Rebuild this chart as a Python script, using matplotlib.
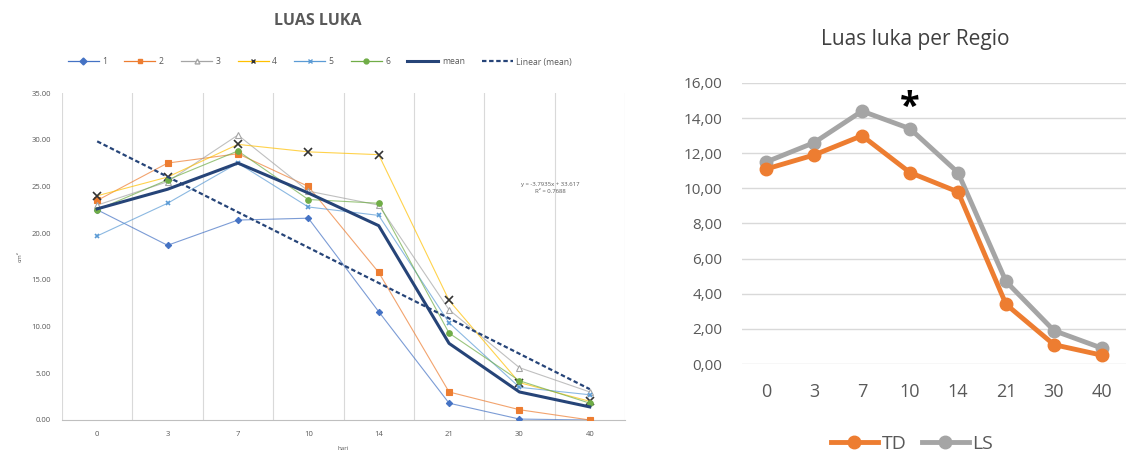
import numpy as np
import matplotlib
matplotlib.use("Agg")
import matplotlib.pyplot as plt
from matplotlib.lines import Line2D

plt.rcParams['font.family'] = ['Open Sans', 'DejaVu Sans']

# ---------------- data ----------------
days = ["0", "3", "7", "10", "14", "21", "30", "40"]

s1 = [22.5, 18.7, 21.4, 21.6, 11.6, 1.8, 0.1, 0.0]
s2 = [23.5, 27.5, 28.5, 25.0, 15.8, 3.0, 1.1, 0.0]
s3 = [23.0, 25.5, 30.5, 24.5, 23.0, 11.8, 5.6, 3.0]
s4 = [24.0, 26.0, 29.5, 28.7, 28.4, 12.8, 4.0, 2.0]
s5 = [19.7, 23.2, 27.5, 22.8, 21.9, 10.4, 3.5, 2.7]
s6 = [22.5, 25.7, 28.8, 23.6, 23.2, 9.3, 4.2, 1.8]
mean = [22.6, 24.7, 27.5, 24.3, 20.8, 8.2, 3.0, 1.4]
trend_label = "y = -3.7935x + 33.617\nR² = 0.7688"

left_ticks = [0, 5, 10, 15, 20, 25, 30, 35]

td = [11.1, 11.9, 13.0, 10.9, 9.8, 3.4, 1.1, 0.5]
ls = [11.5, 12.6, 14.4, 13.4, 10.9, 4.7, 1.9, 0.9]
right_ticks = [0, 2, 4, 6, 8, 10, 12, 14, 16]
star_day_index = 3
star_y = 14.6

# ---------------- figure ----------------
W, H = 1136, 457
fig = plt.figure(figsize=(W / 100, H / 100), dpi=100)
fig.patch.set_facecolor("white")

def box(x0, y0, x1, y1):
    return [x0 / W, 1 - y1 / H, (x1 - x0) / W, (y1 - y0) / H]

txt_gray = "#595959"
grid_c = "#d9d9d9"

# ---------- left chart ----------
axL = fig.add_axes(box(62, 93, 625, 420))
x = np.arange(len(days))
series = [
    ("1", s1, "#4472C4", "D", "#4472C4", 3.2),
    ("2", s2, "#ED7D31", "s", "#ED7D31", 4.0),
    ("3", s3, "#A5A5A5", "^", "#A5A5A5", 4.0),
    ("4", s4, "#FFC000", "x", "#333333", 6.0),
    ("5", s5, "#5B9BD5", "x", "#5B9BD5", 3.5),
    ("6", s6, "#70AD47", "o", "#70AD47", 4.0),
]
handles = []
for name, vals, col, mk, mcol, ms in series:
    mfc = "white" if name == "3" else mcol
    axL.plot(x, vals, color=col, lw=0.8, alpha=0.7, zorder=2)
    axL.plot(x, vals, ls="none", marker=mk, ms=ms, color=mcol,
             mfc=mfc, mec=mcol, mew=1.2 if mk == "x" else 0.8, zorder=3)
    handles.append(Line2D([], [], color=col, lw=0.9, marker=mk, ms=3.5,
                          mfc=mfc, mec=mcol, label=name))
axL.plot(x, mean, color="#264478", lw=2.2, zorder=4)
handles.append(Line2D([], [], color="#264478", lw=2.2, label="mean"))

coef = np.polyfit(x + 1, mean, 1)
trend = np.polyval(coef, x + 1)
axL.plot(x, trend, color="#264478", lw=1.6, ls=(0, (2, 1.2)), zorder=4)
handles.append(Line2D([], [], color="#264478", lw=1.6, ls=(0, (2, 1.2)),
                      label="Linear (mean)"))

axL.set_xlim(-0.5, len(days) - 0.5)
axL.set_ylim(0, 35)
axL.set_xticks(x)
axL.set_xticklabels(days)
axL.set_yticks(left_ticks)
axL.set_yticklabels([f"{v:.2f}" for v in left_ticks])
axL.set_xticks(np.arange(-0.5, len(days) + 0.5, 1), minor=True)
axL.grid(True, which="minor", axis="x", color=grid_c, lw=0.8)
axL.tick_params(which="both", length=0, labelsize=5.5, colors=txt_gray, pad=8)
for s in ["top", "right", "left"]:
    axL.spines[s].set_visible(False)
axL.spines["bottom"].set_color("#bfbfbf")
axL.set_ylabel("cm²", fontsize=4.5, color=txt_gray, labelpad=6)
axL.set_xlabel("hari", fontsize=4.5, color=txt_gray, labelpad=6)
axL.text(0.868, 0.71, trend_label, transform=axL.transAxes, ha="center",
         va="center", fontsize=4.3, color=txt_gray, linespacing=1.6)

fig.text(318 / W, 1 - 21 / H, "LUAS LUKA", ha="center", va="center",
         fontsize=11.5, fontweight="bold", color=txt_gray)
fig.legend(handles=handles, loc="center", bbox_to_anchor=(320 / W, 1 - 62 / H),
           ncol=8, frameon=False, fontsize=6.2, handlelength=3.6,
           columnspacing=2.0, handletextpad=0.4, labelcolor=txt_gray)

# ---------- right chart ----------
axR = fig.add_axes(box(742, 83, 1126, 364))
axR.plot(x, td, color="#ED7D31", lw=3.5, marker="o", ms=9, zorder=3, label="TD")
axR.plot(x, ls, color="#A5A5A5", lw=3.5, marker="o", ms=9, zorder=2, label="LS")
axR.text(star_day_index, star_y, "*", ha="center", va="center",
         fontsize=26, fontweight="bold", color="black")
axR.set_xlim(-0.5, len(days) - 0.5)
axR.set_ylim(0, 16)
axR.set_xticks(x)
axR.set_xticklabels(days)
axR.set_yticks(right_ticks)
axR.set_yticklabels([f"{v:.2f}".replace(".", ",") for v in right_ticks])
axR.grid(True, axis="y", color=grid_c, lw=1)
axR.set_axisbelow(True)
axR.tick_params(axis="y", length=0, labelsize=11, colors=txt_gray, pad=14)
axR.tick_params(axis="x", length=0, labelsize=13, colors=txt_gray, pad=14)
for s in axR.spines.values():
    s.set_visible(False)
fig.text(915 / W, 1 - 40 / H, "Luas luka per Regio", ha="center", va="center",
         fontsize=15, color="#404040")
fig.legend(handles=axR.get_lines()[:2], loc="center",
           bbox_to_anchor=(912 / W, 1 - 444 / H), ncol=2, frameon=False,
           fontsize=14, handlelength=2.4, columnspacing=0.8,
           handletextpad=0.2, labelcolor=txt_gray)

fig.savefig("out.png", dpi=100)
